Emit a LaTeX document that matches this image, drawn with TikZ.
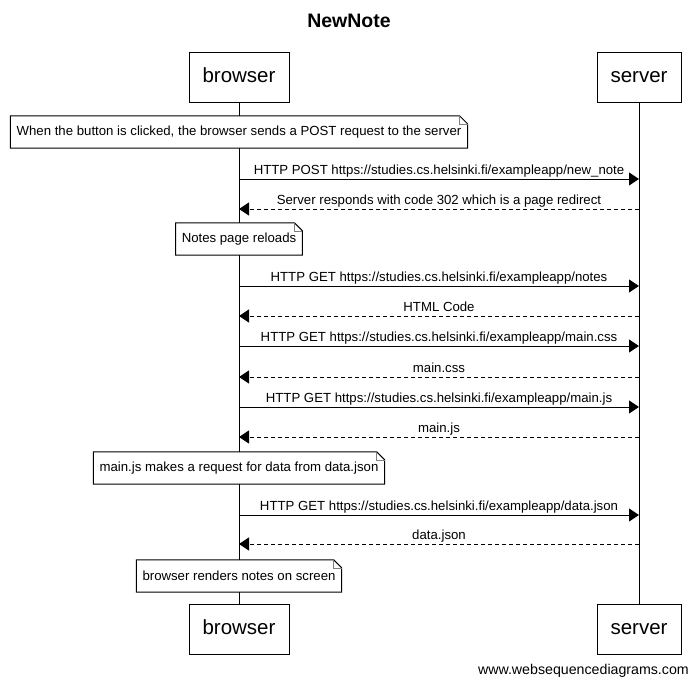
\documentclass[tikz,border=0pt]{standalone}
\usepackage{fontspec}
\setmainfont{Liberation Sans}
\usetikzlibrary{arrows.meta, positioning, calc}

\begin{document}
\begin{tikzpicture}[x=1pt, y=-1pt,
        actor/.style={rectangle, draw=black, fill=white, line width=1pt, minimum width=100pt, minimum height=50pt, text height=15pt, text depth=4pt, font=\fontsize{20.5}{24}\selectfont},
        note/.style={rectangle, fill=white, minimum height=32pt, inner xsep=6pt, inner ysep=0pt, font=\fontsize{13.2}{15}\selectfont},
        msg/.style={-{Triangle[length=10pt, width=13pt]}, line width=1pt},
        reply/.style={msg, dash pattern=on 4pt off 3pt},
        lbl/.style={above, inner sep=0pt, yshift=1.5pt, text depth=2.5pt, font=\fontsize{13.2}{15}\selectfont}
    ]
        \useasboundingbox (0,0) rectangle (697,688);

        \node[font=\fontsize{19.5}{23}\selectfont\bfseries] (title) at (349,21) {NewNote};

        \node[actor] (btop) at (239,77) {browser};
        \node[actor, minimum width=84pt] (stop) at (639,77) {server};
        \node[actor] (bbot) at (239,629) {browser};
        \node[actor, minimum width=84pt] (sbot) at (639,629) {server};

        % Lifelines
        \draw[line width=1pt] (btop) -- (bbot);
        \draw[line width=1pt] (stop) -- (sbot);

        % Notes
        \node[note] (n1) at (239,132) {When the button is clicked, the browser sends a POST request to the server};
        \node[note] (n2) at (239,239) {Notes page reloads};
        \node[note] (n3) at (239,468) {main.js makes a request for data from data.json};
        \node[note] (n4) at (239,576) {browser renders notes on screen};
        \foreach \n in {n1,n2,n3,n4} {
            \draw[line width=1pt] (\n.south west) -- (\n.north west) -- ([xshift=-8pt]\n.north east)
                -- ([yshift=-8pt]\n.north east) -- (\n.south east) -- cycle;
            \draw[line width=0.6pt, gray] ([xshift=-8pt]\n.north east) |- ([yshift=-8pt]\n.north east);
        }

        % Messages
        \draw[msg] (btop |- 0,179) -- node[lbl] {HTTP POST https://studies.cs.helsinki.fi/exampleapp/new\_note} (stop |- 0,179);
        \draw[reply] (stop |- 0,209) -- node[lbl] {Server responds with code 302 which is a page redirect} (btop |- 0,209);
        \draw[msg] (btop |- 0,286) -- node[lbl] {HTTP GET https://studies.cs.helsinki.fi/exampleapp/notes} (stop |- 0,286);
        \draw[reply] (stop |- 0,316) -- node[lbl] {HTML Code} (btop |- 0,316);
        \draw[msg] (btop |- 0,346) -- node[lbl] {HTTP GET https://studies.cs.helsinki.fi/exampleapp/main.css} (stop |- 0,346);
        \draw[reply] (stop |- 0,377) -- node[lbl] {main.css} (btop |- 0,377);
        \draw[msg] (btop |- 0,407) -- node[lbl] {HTTP GET https://studies.cs.helsinki.fi/exampleapp/main.js} (stop |- 0,407);
        \draw[reply] (stop |- 0,437) -- node[lbl] {main.js} (btop |- 0,437);
        \draw[msg] (btop |- 0,515) -- node[lbl] {HTTP GET https://studies.cs.helsinki.fi/exampleapp/data.json} (stop |- 0,515);
        \draw[reply] (stop |- 0,544) -- node[lbl] {data.json} (btop |- 0,544);

        \node[anchor=east, inner sep=0pt, font=\fontsize{14.2}{17}\selectfont] (site) at (689,671) {www.websequencediagrams.com};

    \end{tikzpicture}
\end{document}
